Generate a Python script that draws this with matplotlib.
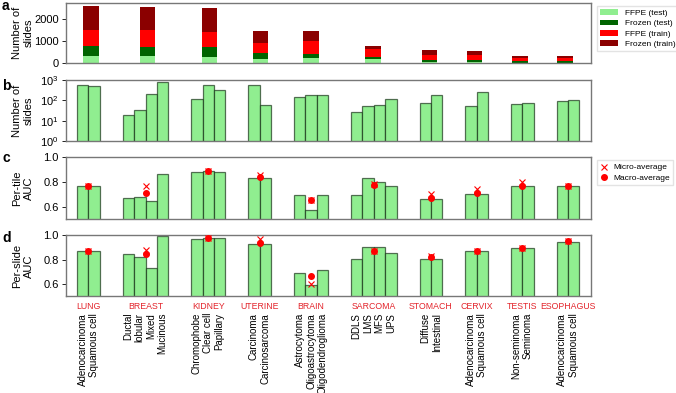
import numpy as np
import matplotlib.pyplot as plt
from matplotlib.transforms import blended_transform_factory

plt.rcParams['font.family'] = ['Liberation Sans', 'DejaVu Sans']

# organ groups and subtypes
groups = ['LUNG', 'BREAST', 'KIDNEY', 'UTERINE', 'BRAIN', 'SARCOMA',
          'STOMACH', 'CERVIX', 'TESTIS', 'ESOPHAGUS']
subtypes = [['Adenocarcinoma', 'Squamous cell'],
            ['Ductal', 'lobular', 'Mixed', 'Mucinous'],
            ['Chromophobe', 'Clear cell', 'Papillary'],
            ['Carcinoma', 'Carcinosarcoma'],
            ['Astrocytoma', 'Oligoastrocytoma', 'Oligodendroglioma'],
            ['DDLS', 'LMS', 'MFS', 'UPS'],
            ['Diffuse', 'Intestinal'],
            ['Adenocarcinoma', 'Squamous cell'],
            ['Non-seminoma', 'Seminoma'],
            ['Adenocarcinoma', 'Squamous cell']]

# panel a: slides per organ (stacked)
ffpe_test = [330, 330, 270, 180, 205, 180, 40, 40, 20, 20]
frozen_test = [450, 415, 460, 270, 210, 90, 110, 105, 50, 50]
ffpe_train = [715, 750, 675, 450, 585, 360, 220, 225, 150, 135]
frozen_train = [1110, 1030, 1105, 550, 450, 145, 225, 195, 105, 110]

# panel b: slides per subtype
n_slides = [[550, 510], [19, 34, 214, 800], [121, 550, 313], [550, 57],
            [142, 190, 190], [26, 51, 62, 113], [74, 190], [55, 270],
            [65, 74], [91, 100]]

# panel c: per-tile AUC
tile_auc = [[0.765, 0.765], [0.672, 0.677, 0.648, 0.863], [0.882, 0.893, 0.877],
            [0.836, 0.836], [0.697, 0.576, 0.697], [0.697, 0.836, 0.80, 0.765],
            [0.666, 0.666], [0.705, 0.705], [0.765, 0.765], [0.765, 0.765]]
tile_micro = [0.77, 0.767, 0.888, 0.86, 0.656, 0.78, 0.70, 0.746, 0.80, 0.77]
tile_macro = [0.77, 0.713, 0.888, 0.84, 0.656, 0.779, 0.668, 0.71, 0.771, 0.77]

# panel d: per-slide AUC
slide_auc = [[0.869, 0.869], [0.847, 0.82, 0.73, 0.995], [0.97, 0.98, 0.978],
             [0.929, 0.929], [0.689, 0.595, 0.718], [0.81, 0.904, 0.904, 0.855],
             [0.81, 0.81], [0.869, 0.869], [0.893, 0.893], [0.943, 0.943]]
slide_micro = [0.87, 0.88, 0.978, 0.97, 0.603, 0.871, 0.83, 0.872, 0.90, 0.95]
slide_macro = [0.87, 0.85, 0.978, 0.935, 0.669, 0.871, 0.82, 0.872, 0.90, 0.95]

# bar positions: groups separated by a gap of two bars
centers = []
start = 1
for s in subtypes:
    centers.append(start + 0.5 + np.arange(len(s)))
    start += len(s) + 2
gcent = [c.mean() for c in centers]
xs = np.concatenate(centers)

LG = '#90ee90'
EDGE = (0.05, 0.15, 0.05, 0.65)
GRAY = '#777777'
RED = '#e3242b'

fig = plt.figure(figsize=(6.76, 3.93), dpi=100)
L, W = 0.097, 0.777
ax_a = fig.add_axes([L, 0.8397, W, 0.1527])
ax_b = fig.add_axes([L, 0.6412, W, 0.1552])
ax_c = fig.add_axes([L, 0.4427, W, 0.1570])
ax_d = fig.add_axes([L, 0.2460, W, 0.1552])

for ax in [ax_a, ax_b, ax_c, ax_d]:
    for sp in ax.spines.values():
        sp.set_color(GRAY)
        sp.set_linewidth(1.0)
    ax.tick_params(axis='y', labelsize=8, length=3, width=0.6, pad=2)
    ax.tick_params(axis='x', bottom=False, labelbottom=False)

# a
bottom = np.zeros(len(groups))
for vals, col, lab in [(ffpe_test, LG, 'FFPE (test)'),
                       (frozen_test, '#006400', 'Frozen (test)'),
                       (ffpe_train, '#ff0000', 'FFPE (train)'),
                       (frozen_train, '#8b0000', 'Frozen (train)')]:
    ax_a.bar(gcent, vals, width=1.37, bottom=bottom, color=col, label=lab)
    bottom += np.array(vals)
ax_a.set_xlim(-0.25, 46.29)
ax_a.set_ylim(0, 2730)
ax_a.set_yticks([0, 1000, 2000])
ax_a.set_ylabel('Number of\nslides', fontsize=8)
ax_a.legend(loc='upper left', bbox_to_anchor=(1.003, 1.02), fontsize=6,
            handlelength=2.2, handleheight=0.7, borderpad=0.4, labelspacing=0.3,
            edgecolor='#dddddd', fancybox=False)

# b
ax_b.bar(xs, np.concatenate(n_slides), width=1.0, color=LG, edgecolor=EDGE, linewidth=0.9)
ax_b.set_yscale('log')
ax_b.set_ylim(1, 1000)
ax_b.set_xlim(0, 46)
ax_b.set_yticks([1, 10, 100, 1000])
ax_b.minorticks_off()
ax_b.set_ylabel('Number of\nslides', fontsize=8)

# c, d
for ax, auc, mic, mac, lab in [(ax_c, tile_auc, tile_micro, tile_macro, 'Per-tile\nAUC'),
                               (ax_d, slide_auc, slide_micro, slide_macro, 'Per-slide\nAUC')]:
    ax.bar(xs, np.concatenate(auc), width=1.0, color=LG, edgecolor=EDGE, linewidth=0.9)
    ax.plot(gcent, mic, 'x', color='red', markersize=4, markeredgewidth=0.8,
            label='Micro-average', zorder=3)
    ax.plot(gcent, mac, 'o', color='red', markersize=4, label='Macro-average', zorder=4)
    ax.set_ylim(0.5, 1.0)
    ax.set_xlim(0, 46)
    ax.set_yticks([0.6, 0.8, 1.0])
    ax.set_ylabel(lab, fontsize=8)

ax_c.legend(loc='upper left', bbox_to_anchor=(1.003, 1.02), fontsize=6,
            handlelength=1.0, borderpad=0.4, labelspacing=0.3, handletextpad=0.6,
            edgecolor='#dddddd', fancybox=False)

for ax in [ax_a, ax_b, ax_c, ax_d]:
    ax.yaxis.set_label_coords(-0.061, 0.5)

# labels under panel d
tr = blended_transform_factory(ax_d.transData, ax_d.transAxes)
for g, gc, subs, cs in zip(groups, gcent, subtypes, centers):
    ax_d.text(gc, -0.165, g, transform=tr, ha='center', va='center',
              fontsize=6.3, color=RED)
    for s, c in zip(subs, cs):
        ax_d.text(c, -0.27, s, transform=tr, ha='center', va='top',
                  rotation=90, fontsize=7)

for letter, y in [('a', 6), ('b', 86), ('c', 158), ('d', 238)]:
    fig.text(0.003, 1 - y / 393, letter, fontsize=10, fontweight='bold', va='center')

fig.savefig('out.png', dpi=100)
